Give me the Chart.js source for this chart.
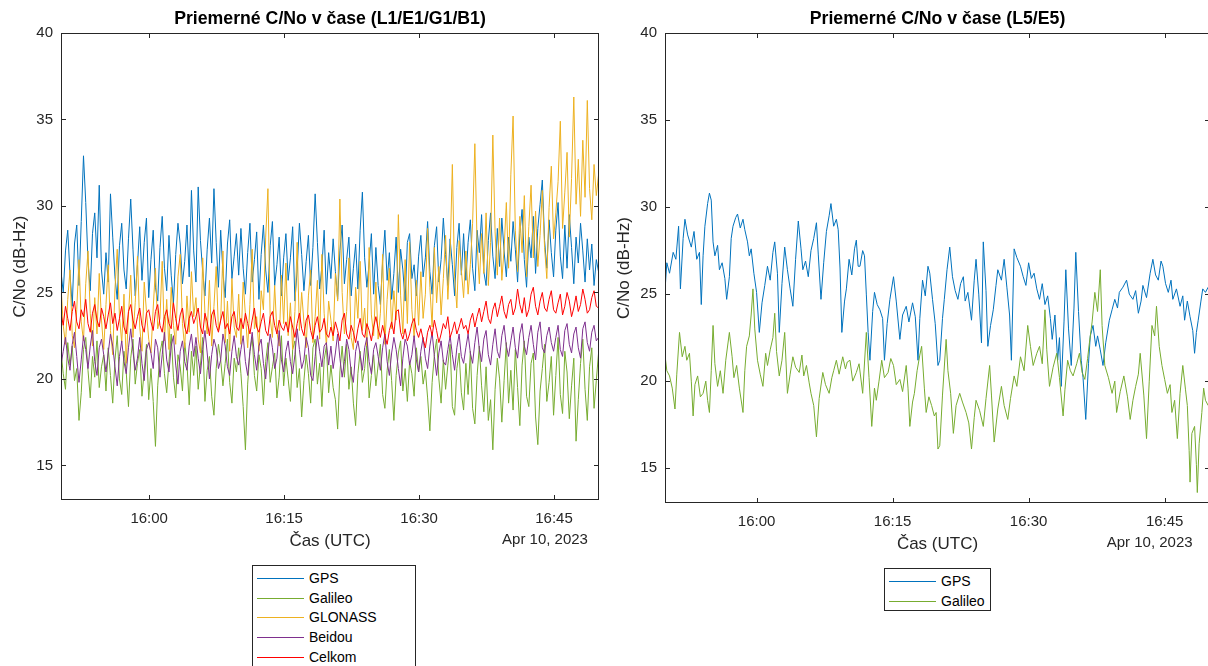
<!DOCTYPE html>
<html>
<head>
<meta charset="utf-8">
<script src="https://cdn.jsdelivr.net/npm/chart.js@4.4.1/dist/chart.umd.min.js"></script>
<style>
  html, body { margin: 0; padding: 0; background: #fff; overflow: hidden; }
  body { width: 1208px; height: 666px; position: relative; font-family: "Liberation Sans", Arial, sans-serif; }
  .wrap { position: absolute; top: 0; height: 666px; }
  #wrap-l1 { left: 0; width: 604px; }
  #wrap-l5 { left: 604px; width: 610px; }
  .legend { position: absolute; background: #fff; border: 1px solid #262626; box-sizing: border-box; }
  .legend .row { position: absolute; left: 0; right: 0; height: 20px; font-size: 14px; color: #000; }
  .legend .swatch { position: absolute; left: 4px; top: 10px; width: 47px; height: 0; border-top: 1px solid; }
  .legend .txt { position: absolute; left: 56px; top: 2px; line-height: 17px; white-space: nowrap; }
  #legend-l1 { left: 252px; top: 565px; width: 164px; height: 110px; }
  #legend-l5 { left: 884px; top: 568px; width: 107px; height: 43px; }
</style>
</head>
<body>
<div class="wrap" id="wrap-l1"><canvas id="chart-l1" width="604" height="666"></canvas></div>
<div class="wrap" id="wrap-l5"><canvas id="chart-l5" width="610" height="666"></canvas></div>
<div class="legend" id="legend-l1"></div>
<div class="legend" id="legend-l5"></div>
<script>
// time axis is in minutes after 16:00 UTC (Apr 10, 2023)
const tickMinutes = [0, 15, 30, 45];
const tickLabels = ["16:00", "16:15", "16:30", "16:45"];
const yTicks = [15, 20, 25, 30, 35, 40];

// L1/E1/G1/B1 – one value every 15 s starting at 15:50:12
const startL1 = -9.8;
const stepL1 = 0.25;

const gpsL1 = [
  26.2, 25.0, 27.4, 28.6, 26.1, 24.2, 27.8, 28.9, 25.4, 29.1, 32.9, 30.2, 26.8, 25.1, 28.4, 29.6, 27.0, 31.2, 26.3, 24.9,
  27.3, 25.6, 30.7, 28.2, 25.9, 24.6, 27.7, 29.0, 26.3, 25.2, 28.1, 30.4, 27.5, 24.8, 26.6, 28.8, 25.7, 27.9, 29.3, 24.7,
  26.9, 28.6, 25.3, 24.5, 27.6, 29.4, 26.4, 25.1, 28.3, 26.0, 24.4, 27.2, 29.0, 27.8, 25.5, 26.8, 28.9, 25.9, 30.9, 27.4,
  25.6, 31.1, 28.0, 26.2, 24.8, 27.5, 29.3, 26.7, 31.0, 27.9, 25.3, 28.6, 26.1, 24.7, 27.8, 29.2, 25.8, 27.1, 28.4, 26.0,
  28.7, 26.4, 24.9, 27.3, 29.0, 25.6, 26.9, 28.5, 24.6, 27.2, 28.9, 26.3, 25.0, 27.7, 29.1, 25.4, 26.6, 28.2, 24.8, 27.0,
  28.4, 25.7, 27.0, 28.8, 24.5, 26.3, 29.0, 27.2, 25.1, 26.8, 28.3, 25.4, 27.6, 30.7, 27.9, 25.2, 26.5, 28.6, 24.9, 27.3,
  25.8, 28.1, 26.2, 24.6, 27.4, 28.9, 25.5, 26.9, 28.2, 24.8, 26.4, 27.8, 25.2, 28.6, 30.8, 27.0, 25.3, 26.7, 28.4, 24.9,
  27.6, 25.4, 24.3, 26.8, 28.6, 25.7, 27.3, 24.6, 26.1, 28.2, 25.0, 27.5, 26.3, 24.5, 27.9, 28.4, 25.8, 26.6, 24.8, 27.1,
  28.3, 25.9, 27.0, 29.1, 26.2, 24.9, 27.7, 28.8, 25.6, 26.9, 29.3, 27.2, 25.4, 28.1, 26.6, 24.8, 27.6, 29.0, 26.0, 28.4,
  25.7, 27.9, 29.2, 26.4, 25.1, 28.6, 27.3, 29.5, 26.2, 25.4, 28.0, 29.6, 27.1, 25.8, 28.7, 26.5, 29.3, 27.4, 25.9, 28.2,
  26.8, 29.1, 27.5, 25.6, 28.4, 29.8, 26.9, 25.3, 28.2, 27.0, 29.4, 26.1, 28.7, 30.1, 31.5, 28.0, 26.4, 29.2, 27.3, 25.9,
  28.6, 30.2, 27.1, 25.8, 28.9, 26.4, 29.5, 27.6, 25.5, 28.2, 26.7, 29.0, 27.4, 25.6, 28.1, 26.3, 27.8, 25.4, 26.9, 26.2
];
const galileoL1 = [
  21.6, 20.3, 19.4, 22.1, 20.8, 21.9, 19.9, 20.6, 17.6, 19.2, 21.7, 22.4, 20.5, 18.9, 21.3, 20.1, 22.2, 19.5, 20.7, 21.4,
  19.3, 21.8, 20.2, 18.6, 21.1, 22.5, 20.0, 19.1, 21.6, 20.4, 18.4, 21.2, 22.3, 19.7, 20.9, 21.7, 19.0, 20.5, 22.0, 18.8,
  20.6, 18.7, 16.1, 19.6, 21.5, 22.2, 20.3, 19.2, 21.0, 22.6, 20.1, 18.9, 21.4, 20.7, 19.3, 22.1, 20.9, 18.5, 21.6, 20.2,
  21.9, 19.4, 20.8, 22.4, 18.7, 20.5, 21.3, 19.0, 17.9, 20.6, 22.0, 21.1, 19.6, 20.9, 22.3, 19.8, 18.6, 21.2, 20.4, 21.8,
  20.3, 18.4, 15.9, 19.7, 21.6, 22.4, 20.2, 19.3, 21.4, 20.6, 18.5, 21.0, 22.1, 19.8, 20.7, 21.5, 18.9, 20.1, 22.5, 19.6,
  21.2, 20.0, 18.7, 21.7, 22.2, 19.5, 20.6, 17.8, 19.9, 21.4, 20.3, 18.6, 21.8, 22.3, 19.7, 20.9, 18.4, 21.1, 21.9, 19.2,
  20.8, 19.5, 18.8, 17.1, 20.4, 21.9, 20.1, 22.0, 19.4, 20.7, 18.6, 17.3, 20.3, 21.6, 19.8, 20.6, 22.1, 18.9, 20.2, 21.4,
  19.6, 20.8, 22.0, 19.1, 18.3, 20.5, 21.7, 19.9, 17.6, 20.2, 21.5, 22.2, 19.3, 20.6, 18.7, 21.0, 20.3, 19.0, 21.8, 20.4,
  21.3, 19.7, 20.5, 18.9, 17.0, 19.8, 21.4, 22.3, 20.0, 18.6, 21.1, 19.4, 20.8, 22.0, 18.4, 17.9, 20.6, 21.5, 19.2, 18.2,
  20.9, 19.1, 21.6, 18.3, 17.4, 20.2, 21.9, 19.6, 18.1, 20.7, 17.6, 18.8, 15.9, 19.4, 21.2, 20.0, 17.5, 19.9, 22.1, 18.6,
  20.5, 18.2, 21.7, 19.5, 17.3, 20.8, 22.2, 19.0, 18.4, 20.9, 21.5, 17.8, 16.2, 19.3, 20.6, 22.0, 18.7, 19.8, 21.3, 17.9,
  20.2, 22.4, 19.1, 18.0, 21.6, 20.4, 17.7, 19.6, 21.2, 16.4, 18.8, 20.9, 22.3, 19.4, 17.6, 20.7, 21.8, 18.3, 19.9, 21.5
];
const glonassL1 = [
  25.4, 23.1, 22.0, 24.6, 26.3, 22.5, 21.8, 24.0, 26.9, 23.3, 22.2, 25.5, 27.4, 23.8, 21.9, 24.7, 22.6, 26.1, 23.4, 21.7,
  24.3, 26.6, 22.8, 21.4, 25.2, 27.5, 23.6, 22.1, 24.9, 20.9, 23.7, 26.0, 22.4, 24.4, 27.1, 23.0, 21.6, 25.6, 23.9, 22.3,
  21.5, 24.1, 26.4, 22.9, 23.5, 26.8, 22.2, 24.6, 21.7, 25.3, 23.1, 22.0, 25.9, 27.2, 23.2, 21.8, 24.8, 22.7, 26.2, 23.6,
  24.7, 22.3, 21.5, 27.0, 23.8, 22.6, 25.7, 21.9, 24.2, 26.5, 22.8, 23.4, 27.4, 22.1, 24.5, 21.6, 25.8, 23.0, 22.4, 24.9,
  22.0, 25.6, 23.7, 21.8, 24.3, 27.5, 22.9, 23.6, 21.6, 25.1, 24.0, 28.2, 31.0, 23.5, 22.4, 25.4, 22.7, 21.9, 26.0, 23.2,
  26.7, 22.5, 24.4, 21.7, 23.9, 27.9, 22.8, 25.0, 23.3, 21.8, 24.8, 26.3, 22.1, 23.6, 25.7, 22.3, 27.2, 23.8, 21.9, 24.5,
  23.4, 22.2, 26.1, 24.5, 30.4, 25.0, 22.6, 23.9, 27.0, 22.4, 21.7, 25.3, 23.5, 26.8, 22.8, 24.1, 21.9, 27.6, 23.7, 22.5,
  25.6, 22.3, 23.8, 27.2, 22.0, 24.6, 26.4, 22.9, 25.1, 23.4, 29.5, 24.8, 22.6, 26.9, 23.2, 27.9, 24.0, 22.4, 25.7, 23.1,
  26.2, 23.5, 24.9, 28.7, 25.3, 23.0, 27.6, 24.4, 26.5, 23.7, 25.8, 28.3, 24.6, 27.1, 32.4, 25.9, 24.1, 28.0, 26.3, 24.7,
  27.4, 24.9, 26.6, 29.0, 33.6, 27.8, 25.5, 28.4, 26.1, 29.6, 25.4, 27.9, 34.1, 28.5, 26.0, 29.3, 25.7, 27.5, 30.2, 26.4,
  31.8, 35.2, 28.6, 26.2, 29.4, 27.3, 30.6, 25.9, 28.8, 31.2, 27.0, 29.7, 26.5, 28.3, 30.9, 27.6, 25.8, 29.9, 32.3, 28.1,
  29.6, 31.4, 34.9, 28.7, 30.8, 33.1, 28.2, 31.6, 36.3, 30.1, 32.7, 29.4, 33.8, 30.5, 36.1, 31.0, 29.2, 32.4, 30.6, 31.8
];
const beidouL1 = [
  20.8, 21.6, 22.4, 21.2, 20.5, 22.0, 22.7, 21.3, 19.8, 21.1, 22.5, 21.7, 20.6, 21.9, 22.8, 21.0, 20.2, 21.8, 22.3, 21.4,
  20.4, 21.5, 22.6, 21.9, 20.7, 19.6, 21.3, 22.2, 21.0, 20.3, 21.8, 22.9, 21.6, 20.5, 21.2, 22.4, 20.9, 19.9, 21.7, 22.1,
  21.5, 20.6, 22.3, 21.8, 20.1, 21.4, 22.7, 21.1, 20.4, 21.9, 22.5, 20.8, 19.7, 21.6, 22.2, 21.0, 20.5, 21.9, 22.6, 21.3,
  22.4, 21.2, 20.3, 21.7, 22.8, 21.5, 20.0, 21.4, 22.3, 21.8, 20.6, 21.1, 22.6, 21.9, 20.7, 20.2, 21.6, 22.5, 21.3, 20.8,
  21.7, 22.5, 21.0, 20.2, 21.6, 22.7, 21.4, 20.5, 21.9, 22.3, 20.9, 20.0, 21.5, 22.6, 21.8, 20.6, 21.2, 22.8, 21.1, 20.4,
  21.6, 22.2, 21.0, 20.3, 21.4, 22.9, 21.7, 20.6, 21.1, 22.4, 21.8, 20.2, 19.9, 21.3, 22.5, 21.6, 20.7, 21.9, 22.1, 20.8,
  21.9, 20.6, 21.5, 22.6, 21.2, 20.1, 21.0, 22.3, 21.7, 20.4, 19.8, 21.6, 22.2, 21.4, 20.5, 21.8, 22.4, 21.0, 20.3, 21.7,
  22.1, 21.3, 20.5, 21.8, 22.6, 21.0, 20.2, 21.5, 22.4, 21.7, 20.6, 19.6, 21.2, 22.3, 21.9, 20.8, 21.4, 22.5, 21.1, 20.4,
  21.6, 22.4, 21.2, 20.6, 21.9, 22.7, 21.3, 20.2, 21.5, 22.2, 21.0, 20.8, 21.7, 22.5, 21.4, 20.5, 21.8, 22.6, 21.3, 20.9,
  21.8, 22.6, 21.5, 20.9, 22.1, 23.0, 21.7, 21.0, 22.3, 22.8, 21.4, 20.8, 22.0, 22.9, 21.6, 21.2, 22.5, 23.1, 21.9, 21.3,
  22.2, 23.0, 21.8, 21.2, 22.6, 23.2, 21.9, 21.4, 22.4, 23.1, 22.0, 21.1, 22.7, 23.3, 21.8, 21.5, 22.5, 23.0, 22.1, 21.6,
  22.4, 23.1, 21.7, 21.3, 22.8, 23.2, 22.0, 21.5, 22.6, 23.0, 21.8, 21.2, 22.9, 23.3, 22.1, 21.6, 22.7, 23.1, 22.2, 22.4
];
const celkomL1 = [
  23.8, 23.1, 24.2, 23.5, 22.8, 23.9, 24.5, 23.3, 22.9, 24.0, 23.6, 24.6, 23.2, 22.7, 23.8, 24.3, 23.4, 23.0, 24.1, 23.6,
  22.9, 23.7, 24.4, 23.2, 23.8, 22.8, 23.5, 24.2, 23.0, 22.6, 23.9, 24.3, 23.4, 22.9, 23.6, 24.1, 23.1, 22.7, 23.8, 24.0,
  23.3, 22.8, 23.9, 24.3, 23.1, 22.7, 23.6, 24.0, 23.2, 22.9, 24.4, 23.5, 22.8, 23.7, 24.1, 23.0, 22.6, 23.5, 23.9, 23.2,
  23.6, 24.1, 23.0, 22.6, 23.8, 23.3, 22.5, 23.7, 24.0, 23.1, 22.7, 23.4, 23.9, 22.9, 23.2, 22.6, 23.6, 23.9, 23.0, 22.8,
  23.5, 22.9, 23.8, 23.2, 22.6, 23.4, 24.1, 23.0, 22.7, 23.3, 23.8, 22.8, 22.5, 23.6, 23.9, 23.1, 22.6, 23.4, 23.0, 22.8,
  23.3, 22.7, 23.6, 23.0, 22.4, 23.2, 23.8, 22.9, 22.5, 23.4, 23.7, 22.8, 22.3, 23.1, 23.6, 22.7, 22.9, 23.5, 22.6, 22.4,
  23.0, 22.5, 23.3, 22.8, 22.2, 23.4, 23.8, 22.6, 22.3, 23.1, 22.7, 22.1, 22.9, 23.5, 22.6, 22.4, 23.2, 22.8, 22.2, 23.0,
  23.6, 22.9, 22.4, 23.1, 22.5, 22.0, 22.8, 23.3, 22.6, 23.9, 24.0, 22.7, 22.3, 22.9, 22.2, 22.6, 23.2, 23.5, 22.8, 22.4,
  22.9, 22.3, 21.8, 22.7, 23.1, 22.5, 23.4, 22.8, 22.1, 22.6, 23.2, 22.9, 23.6, 22.4, 22.8, 23.3, 22.6, 23.0, 23.5, 22.9,
  23.1, 22.6, 23.4, 23.8, 23.0, 23.6, 24.1, 23.3, 23.9, 24.5, 23.5, 23.2, 24.0, 24.4, 23.6, 24.2, 24.8, 23.9, 23.5, 24.3,
  24.6, 23.7, 24.1, 25.2, 24.3, 23.8, 24.7, 23.6, 24.0, 24.9, 25.3, 24.2, 23.7, 24.5, 25.0, 24.1, 23.9, 24.6, 25.1, 24.0,
  23.8, 24.4, 24.9, 23.7, 24.2, 25.0, 24.5, 23.6, 24.1, 24.8, 23.9, 24.3, 25.2, 24.6, 23.8, 24.0, 24.7, 25.1, 24.2, 24.1
];

// L5/E5 – [minutes after 16:00, C/No dB-Hz]
const gpsL5 = [
  [-10.1,25.2],[-9.9,26.8],[-9.6,26.2],[-9.2,27.4],[-8.9,27.0],[-8.6,28.9],[-8.4,25.3],[-8.1,28.2],[-7.9,29.3],[-7.6,28.4],
  [-7.2,27.7],[-6.9,28.6],[-6.6,27.0],[-6.3,27.4],[-6.1,24.4],[-5.9,27.2],[-5.7,28.9],[-5.4,30.2],[-5.2,30.8],[-5.0,30.4],
  [-4.8,28.0],[-4.6,27.2],[-4.3,27.8],[-4.1,26.4],[-3.8,26.8],[-3.5,25.9],[-3.3,24.7],[-3.0,26.0],[-2.8,28.2],[-2.6,28.9],
  [-2.3,29.4],[-2.1,29.6],[-1.8,28.8],[-1.5,29.3],[-1.3,28.7],[-1.0,28.0],[-0.8,27.2],[-0.6,27.6],[-0.3,26.2],[0.0,25.1],
  [0.3,22.8],[0.6,24.5],[0.9,25.5],[1.2,26.6],[1.5,25.8],[1.8,27.4],[2.0,28.0],[2.3,26.2],[2.5,22.8],[2.8,25.6],
  [3.1,27.7],[3.4,26.4],[3.7,25.3],[4.0,24.3],[4.3,27.0],[4.6,29.2],[4.9,27.6],[5.1,26.4],[5.4,26.9],[5.7,26.0],
  [6.0,27.5],[6.3,28.2],[6.6,29.1],[6.8,27.3],[7.1,24.7],[7.4,26.8],[7.7,28.6],[8.0,29.5],[8.2,30.2],[8.5,28.9],
  [8.8,29.3],[9.0,28.7],[9.2,26.5],[9.4,22.8],[9.7,24.6],[9.9,25.3],[10.2,27.0],[10.5,26.1],[10.8,27.6],[11.0,28.1],
  [11.2,26.6],[11.4,26.6],[11.7,27.5],[11.9,27.2],[12.1,25.0],[12.3,22.8],[12.5,21.2],[12.8,24.0],[13.0,25.1],[13.3,24.4],
  [13.6,24.1],[13.9,23.6],[14.1,21.2],[14.4,23.3],[14.7,24.7],[15.1,26.0],[15.4,24.6],[15.8,22.4],[16.1,23.8],[16.5,24.3],
  [16.8,23.4],[17.2,24.5],[17.5,23.7],[17.8,21.2],[18.0,23.6],[18.3,25.8],[18.6,24.9],[18.9,26.6],[19.1,26.2],[19.4,24.7],
  [19.7,23.3],[20.0,20.9],[20.2,21.2],[20.5,23.6],[20.7,24.7],[21.0,26.4],[21.3,27.7],[21.6,26.0],[21.9,25.2],[22.2,24.7],
  [22.5,25.6],[22.8,26.0],[23.0,24.6],[23.3,25.1],[23.7,23.5],[24.0,25.8],[24.2,27.0],[24.5,25.0],[24.8,22.2],[25.0,28.0],
  [25.3,25.2],[25.5,22.0],[25.8,23.2],[26.1,24.1],[26.4,25.5],[26.6,26.4],[27.0,25.8],[27.3,27.0],[27.6,25.4],[27.9,23.8],
  [28.1,21.2],[28.4,27.6],[28.7,27.1],[29.1,26.6],[29.4,26.0],[29.7,25.5],[30.0,26.8],[30.3,25.9],[30.6,26.2],[30.9,25.3],
  [31.2,24.7],[31.5,25.6],[31.8,24.4],[32.1,24.9],[32.4,23.6],[32.6,22.4],[32.9,23.8],[33.2,21.2],[33.4,22.5],[33.6,19.7],
  [33.9,23.4],[34.1,26.4],[34.4,23.0],[34.7,20.9],[35.0,24.2],[35.2,27.4],[35.5,24.0],[35.8,21.2],[36.0,20.2],[36.3,17.8],
  [36.6,21.0],[36.8,22.6],[37.1,23.2],[37.4,22.0],[37.6,22.6],[37.9,21.8],[38.2,20.9],[38.5,22.2],[38.9,23.5],[39.2,24.1],
  [39.5,24.7],[39.8,24.2],[40.0,25.1],[40.4,25.4],[40.8,25.8],[41.1,25.0],[41.5,24.7],[41.8,25.2],[42.1,23.9],[42.4,24.6],
  [42.6,25.5],[43.0,24.8],[43.4,26.2],[43.7,27.0],[44.0,26.1],[44.3,25.8],[44.6,26.9],[44.8,26.6],[45.1,25.6],[45.4,25.1],
  [45.7,25.8],[45.9,24.7],[46.3,25.3],[46.7,24.3],[47.0,24.9],[47.2,23.5],[47.5,24.6],[47.8,23.7],[48.1,22.9],[48.3,21.6],
  [48.5,22.8],[48.7,23.5],[49.0,24.6],[49.2,25.3],[49.5,25.1],[49.8,25.4]
];
const galileoE5 = [
  [-10.1,21.5],[-9.9,20.6],[-9.6,20.3],[-9.3,19.6],[-9.0,18.4],[-8.8,20.4],[-8.5,22.8],[-8.2,21.4],[-7.9,22.0],[-7.7,21.2],
  [-7.4,21.6],[-7.2,20.0],[-7.0,18.0],[-6.8,19.8],[-6.5,20.3],[-6.2,19.1],[-5.9,19.3],[-5.6,20.0],[-5.4,18.9],[-5.2,18.2],
  [-5.0,20.6],[-4.8,23.2],[-4.6,21.0],[-4.3,19.7],[-4.0,20.6],[-3.7,19.3],[-3.4,21.2],[-3.0,22.8],[-2.7,21.4],[-2.5,20.2],
  [-2.2,20.9],[-1.9,19.6],[-1.5,18.2],[-1.3,20.6],[-1.1,22.0],[-0.8,22.6],[-0.6,23.8],[-0.4,25.3],[-0.2,23.0],[0.1,21.2],
  [0.4,20.4],[0.7,19.7],[1.0,21.6],[1.2,20.9],[1.5,21.8],[1.8,22.5],[2.0,23.9],[2.2,21.7],[2.5,20.3],[2.8,21.2],
  [3.1,22.8],[3.4,19.3],[3.7,20.4],[4.0,21.4],[4.3,20.8],[4.7,20.5],[5.0,21.5],[5.2,20.3],[5.5,20.9],[5.8,19.9],
  [6.0,19.3],[6.3,18.6],[6.6,16.8],[6.9,19.0],[7.3,20.5],[7.6,19.8],[8.0,19.3],[8.3,20.2],[8.5,20.6],[8.8,21.2],
  [9.1,20.4],[9.5,21.4],[9.8,20.7],[10.0,21.1],[10.3,21.2],[10.6,20.0],[11.0,20.5],[11.3,21.0],[11.7,19.3],[12.1,22.8],
  [12.4,20.2],[12.7,17.4],[13.0,19.6],[13.2,18.9],[13.5,20.0],[13.8,21.2],[14.1,20.2],[14.5,20.5],[14.8,21.3],[15.1,20.9],
  [15.4,19.8],[15.8,20.1],[16.1,19.4],[16.5,20.9],[16.7,19.6],[16.9,17.4],[17.2,18.8],[17.4,19.3],[17.7,20.6],[18.0,21.5],
  [18.2,22.0],[18.5,19.6],[18.7,18.2],[19.0,19.1],[19.3,18.6],[19.6,18.0],[19.8,18.2],[20.0,16.1],[20.2,16.3],[20.5,19.2],
  [20.9,22.4],[21.1,20.6],[21.4,19.3],[21.7,17.0],[22.0,18.6],[22.4,19.3],[22.7,18.8],[23.1,18.2],[23.4,17.6],[23.7,16.1],
  [24.0,17.9],[24.2,18.9],[24.6,18.3],[25.0,17.4],[25.3,19.0],[25.7,20.9],[25.9,19.2],[26.2,16.5],[26.6,18.4],[27.0,19.7],
  [27.3,18.6],[27.7,17.8],[28.0,19.0],[28.4,20.3],[28.7,19.7],[29.1,21.4],[29.5,20.6],[29.9,23.2],[30.2,22.0],[30.5,20.9],
  [30.9,21.6],[31.2,22.0],[31.5,21.0],[31.8,24.1],[32.0,21.8],[32.3,19.7],[32.7,20.8],[33.1,21.6],[33.4,20.2],[33.8,18.0],
  [34.0,19.5],[34.3,21.2],[34.6,20.6],[34.9,20.3],[35.3,21.0],[35.6,21.6],[35.9,20.5],[36.2,20.1],[36.5,21.3],[36.7,22.2],
  [37.0,23.4],[37.3,25.1],[37.6,24.0],[37.9,26.4],[38.1,23.2],[38.4,20.9],[38.8,20.2],[39.2,19.3],[39.5,20.0],[39.7,18.2],
  [40.1,19.4],[40.5,20.3],[40.9,19.1],[41.2,17.8],[41.5,18.9],[41.8,19.7],[42.1,20.4],[42.3,21.6],[42.7,19.2],[43.0,16.7],
  [43.3,20.0],[43.6,23.2],[43.9,22.6],[44.1,24.3],[44.4,22.0],[44.7,20.9],[45.0,20.1],[45.3,19.3],[45.6,19.8],[45.8,18.2],
  [46.1,18.9],[46.4,16.7],[46.7,19.3],[47.0,20.9],[47.3,19.5],[47.5,18.6],[47.7,16.0],[47.8,14.2],[48.0,17.0],[48.3,17.4],
  [48.5,15.2],[48.6,13.6],[48.8,16.4],[49.1,18.2],[49.3,19.6],[49.5,18.9],[49.8,18.6]
];

const COLORS = {
  gps: "#0072BD",
  galileo: "#77AC30",
  glonass: "#EDB120",
  beidou: "#7E2F8E",
  celkom: "#FF0000",
};
const AXIS = "#262626";
const FONT = "'Liberation Sans', Arial, Helvetica, sans-serif";

Chart.defaults.font.family = FONT;
Chart.defaults.color = AXIS;

function regular(values, start, step) {
  return values.map((v, i) => ({ x: start + i * step, y: v }));
}
function pairs(list) {
  return list.map(([x, y]) => ({ x, y }));
}

// MATLAB-like axes: title centred on the plot box, box with inward ticks, date under last tick
const matlabBox = {
  id: "matlabBox",
  afterDatasetsDraw(chart, args, opts) {
    const { ctx, chartArea: a, scales: { x, y } } = chart;
    ctx.save();
    ctx.strokeStyle = AXIS;
    ctx.lineWidth = 1;
    ctx.strokeRect(Math.round(a.left) + 0.5, Math.round(a.top) + 0.5,
      Math.round(a.width) - 1, Math.round(a.height) - 1);
    ctx.beginPath();
    x.ticks.forEach((t) => {
      const px = Math.round(x.getPixelForValue(t.value)) + 0.5;
      ctx.moveTo(px, a.bottom); ctx.lineTo(px, a.bottom - 5);
      ctx.moveTo(px, a.top); ctx.lineTo(px, a.top + 5);
    });
    y.ticks.forEach((t) => {
      const py = Math.round(y.getPixelForValue(t.value)) + 0.5;
      ctx.moveTo(a.left, py); ctx.lineTo(a.left + 5, py);
      ctx.moveTo(a.right, py); ctx.lineTo(a.right - 5, py);
    });
    ctx.stroke();

    ctx.fillStyle = "#000";
    ctx.font = "bold 17.7px " + FONT;
    ctx.textAlign = "center";
    ctx.textBaseline = "middle";
    ctx.fillText(opts.title, (a.left + a.right) / 2, 19);

    ctx.fillStyle = AXIS;
    ctx.font = "15px " + FONT;
    const px = x.getPixelForValue(tickMinutes[tickMinutes.length - 1]) + opts.dateShift;
    ctx.fillText(opts.date, px, a.bottom + opts.dateDy);
    ctx.restore();
  },
};

function makeChart(canvasId, datasets, cfg) {
  return new Chart(document.getElementById(canvasId), {
    type: "line",
    data: { datasets },
    options: {
      responsive: false,
      animation: false,
      events: [],
      layout: { padding: { left: 0, right: cfg.padRight, top: 33, bottom: cfg.padBottom } },
      elements: {
        point: { radius: 0 },
        line: { borderWidth: 1, tension: 0 },
      },
      scales: {
        x: {
          type: "linear",
          min: cfg.xMin,
          max: cfg.xMax,
          afterBuildTicks: (s) => { s.ticks = tickMinutes.map((v) => ({ value: v })); },
          afterFit: (s) => { s.height = 55; },
          grid: { display: false, drawTicks: false },
          border: { display: false },
          ticks: {
            padding: 10,
            color: AXIS,
            font: { size: 15 },
            maxRotation: 0,
            callback: (v) => tickLabels[tickMinutes.indexOf(v)] ?? "",
          },
          title: {
            display: true,
            text: "Čas (UTC)",
            color: AXIS,
            font: { size: 17 },
            padding: { top: 0, bottom: 3 },
          },
        },
        y: {
          min: 13,
          max: 40,
          afterBuildTicks: (s) => { s.ticks = yTicks.map((v) => ({ value: v })); },
          afterFit: (s) => { s.width = 61; },
          grid: { display: false, drawTicks: false },
          border: { display: false },
          ticks: { padding: 8, color: AXIS, font: { size: 15 } },
          title: {
            display: true,
            text: "C/No (dB-Hz)",
            color: AXIS,
            font: { size: 17 },
            padding: { top: 10, bottom: 0 },
          },
        },
      },
      plugins: {
        legend: { display: false },
        tooltip: { enabled: false },
        title: { display: false },
        matlabBox: { title: cfg.title, date: "Apr 10, 2023", dateShift: cfg.dateShift, dateDy: 40 },
      },
    },
    plugins: [matlabBox],
  });
}

function buildLegend(id, chart, rowTops) {
  const el = document.getElementById(id);
  el.innerHTML = chart.data.datasets.map((d, i) =>
    `<div class="row" style="top:${rowTops[i]}px"><span class="swatch" style="border-top-color:${d.borderColor}"></span><span class="txt">${d.label}</span></div>`
  ).join("");
}

// order: later MATLAB series are drawn on top
const chartL1 = makeChart("chart-l1", [
  { label: "GPS", data: regular(gpsL1, startL1, stepL1), borderColor: COLORS.gps, order: 5 },
  { label: "Galileo", data: regular(galileoL1, startL1, stepL1), borderColor: COLORS.galileo, order: 4 },
  { label: "GLONASS", data: regular(glonassL1, startL1, stepL1), borderColor: COLORS.glonass, order: 3 },
  { label: "Beidou", data: regular(beidouL1, startL1, stepL1), borderColor: COLORS.beidou, order: 2 },
  { label: "Celkom", data: regular(celkomL1, startL1, stepL1), borderColor: COLORS.celkom, order: 1 },
], {
  title: "Priemerné C/No v čase (L1/E1/G1/B1)",
  xMin: -9.8, xMax: 50, padRight: 5, padBottom: 111, dateShift: -9,
});

const chartL5 = makeChart("chart-l5", [
  { label: "GPS", data: pairs(gpsL5), borderColor: COLORS.gps, order: 2 },
  { label: "Galileo", data: pairs(galileoE5), borderColor: COLORS.galileo, order: 1 },
], {
  title: "Priemerné C/No v čase (L5/E5)",
  xMin: -10.1, xMax: 50, padRight: 4, padBottom: 108, dateShift: -15,
});

buildLegend("legend-l1", chartL1, [2, 22, 41, 61, 81]);
buildLegend("legend-l5", chartL5, [2, 22]);
</script>
</body>
</html>
